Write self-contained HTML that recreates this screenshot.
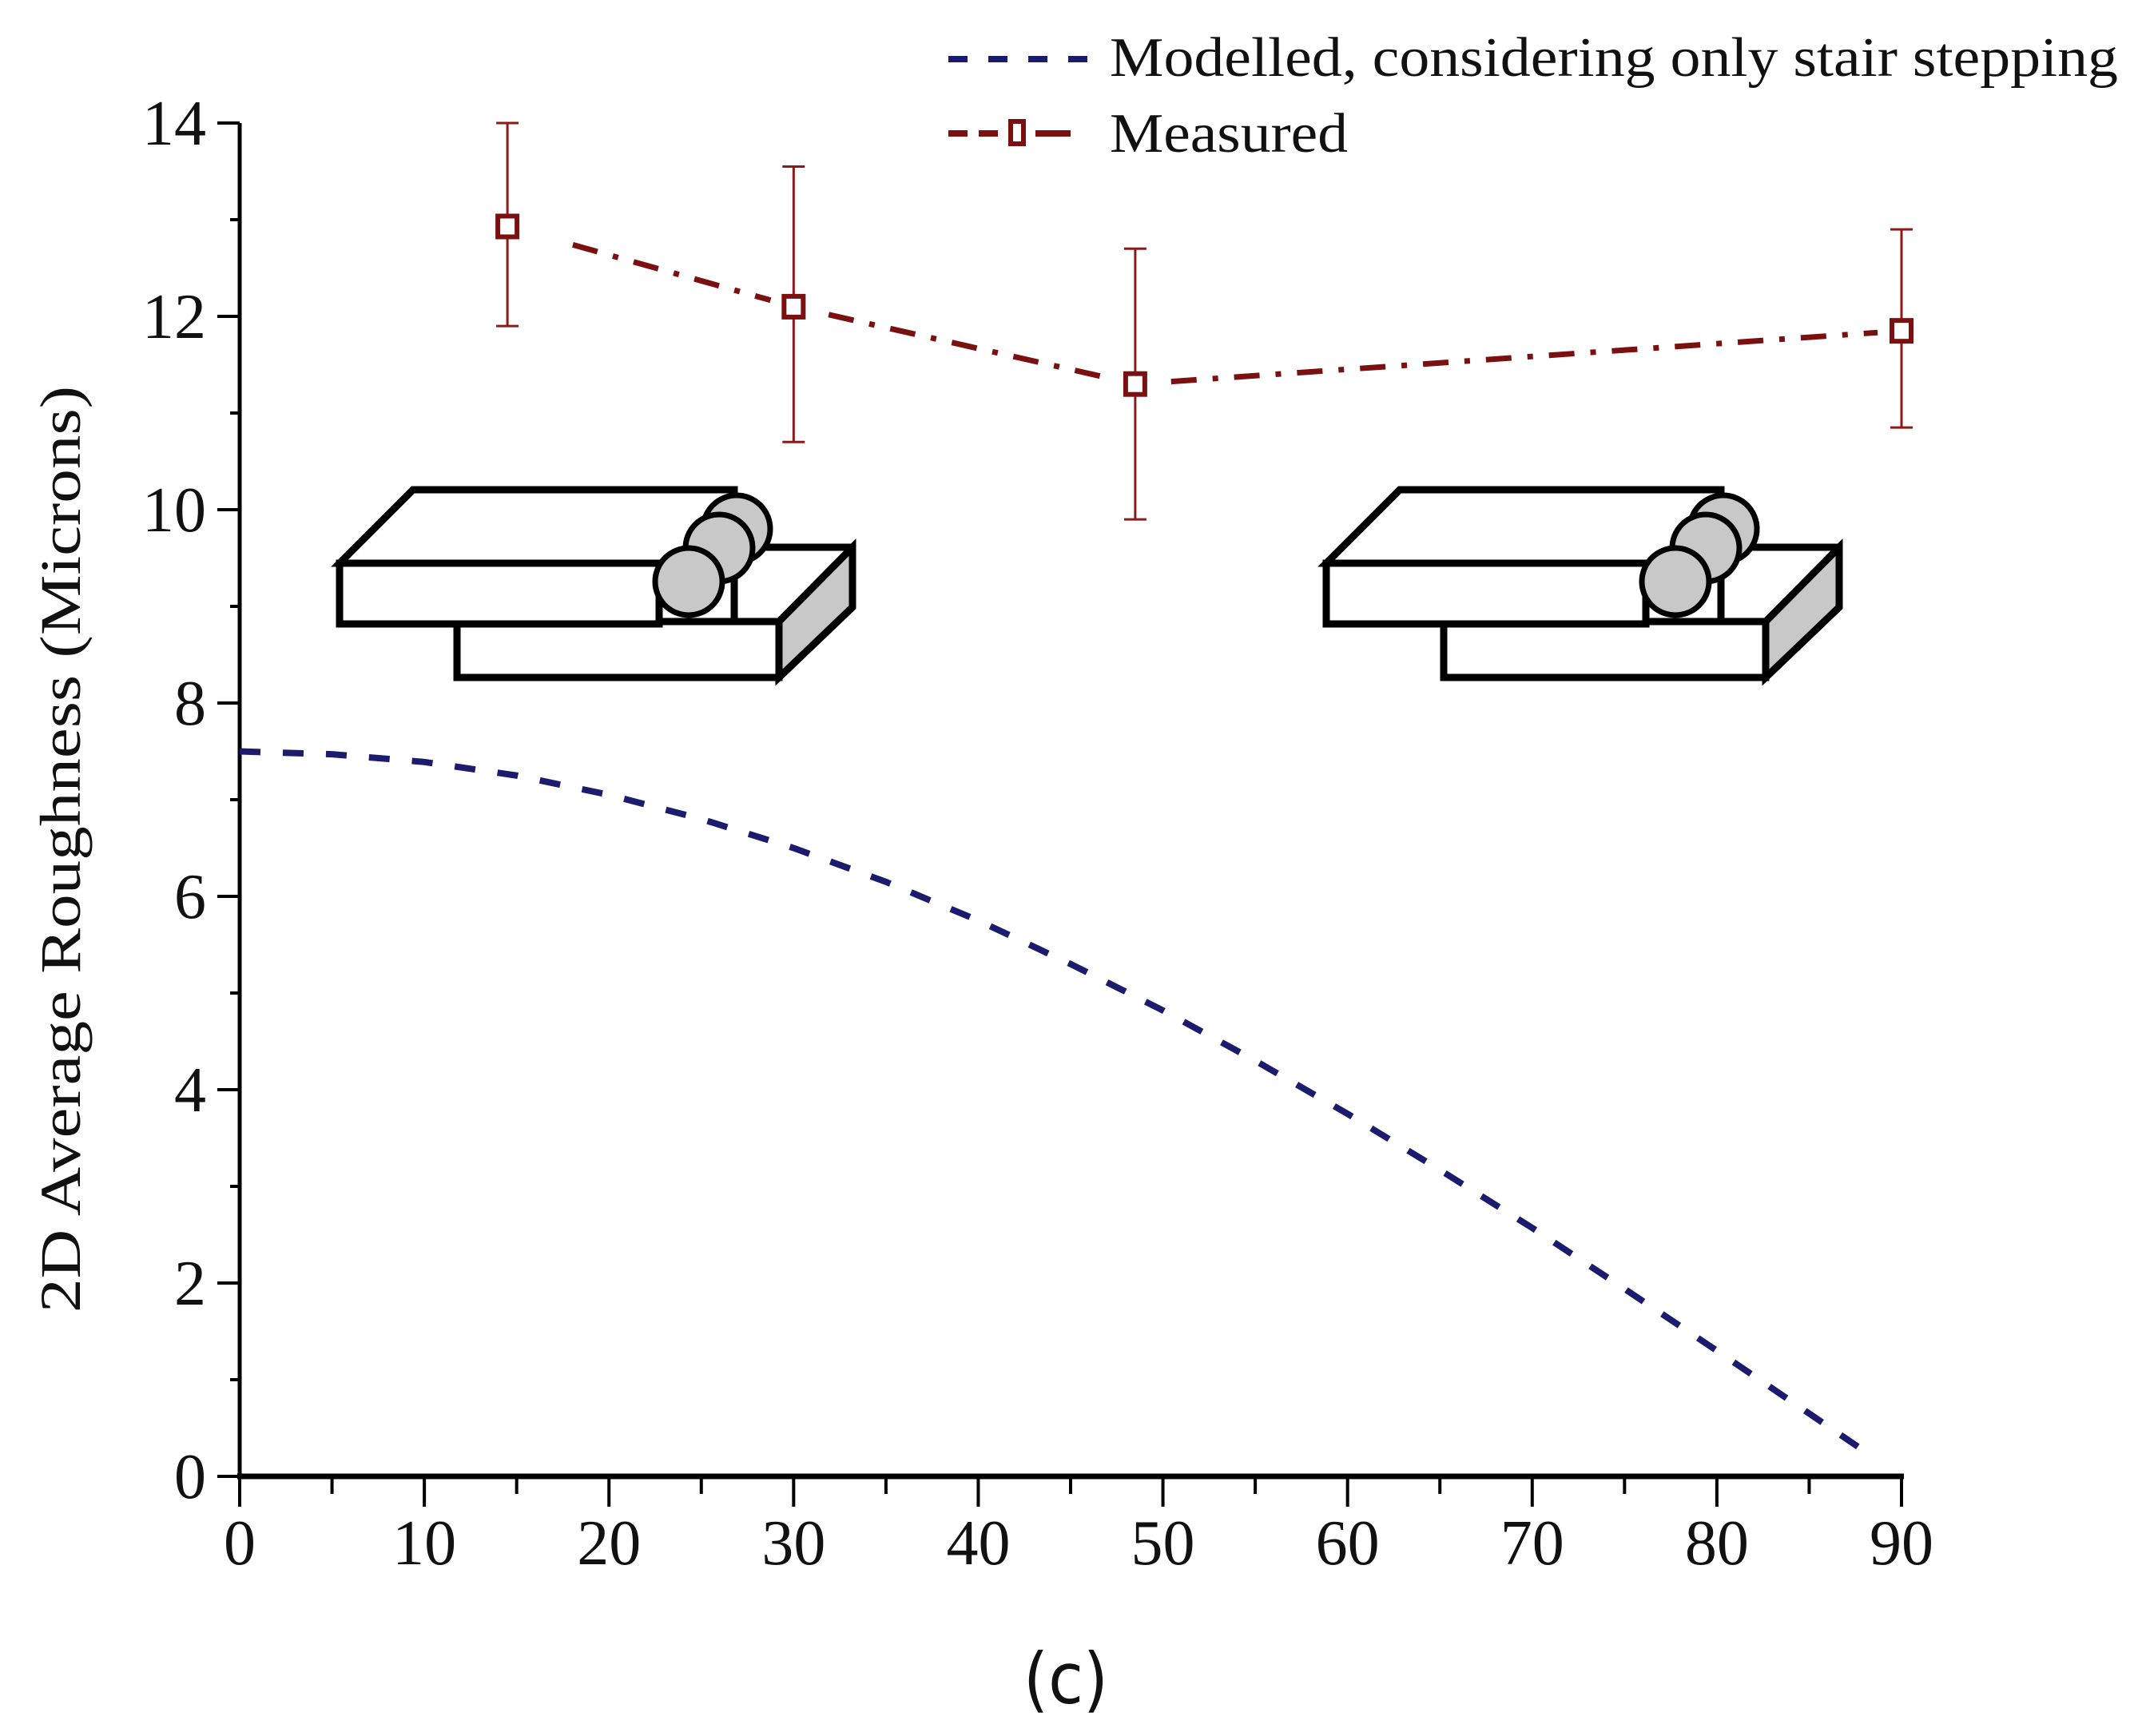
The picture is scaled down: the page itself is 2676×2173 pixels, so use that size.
<!DOCTYPE html>
<html><head><meta charset="utf-8"><style>
html,body{margin:0;padding:0;background:#fff;}
svg{display:block;}
text{font-family:"Liberation Serif",serif;fill:#111;}
</style></head><body>
<svg id="chart" width="2676" height="2173" viewBox="0 0 2676 2173" xmlns="http://www.w3.org/2000/svg">
<g id="illus-left" stroke="#000" stroke-width="9" stroke-linejoin="miter">
  <polygon points="919,685 1067,685 1067,760 975,848 572,848 572,778 919,778" fill="#fff"/>
  <polygon points="975,778 1067,685 1067,760 975,848" fill="#c8c8c8"/>
  <rect x="572" y="778" width="403" height="70" fill="#fff"/>
  <polygon points="425,705 517,613 919,613 919,705" fill="#fff"/>
  <rect x="425" y="705" width="400" height="76" fill="#fff"/>
  <circle cx="922" cy="662" r="42" fill="#c8c8c8" stroke-width="7"/>
  <circle cx="900" cy="686" r="42" fill="#c8c8c8" stroke-width="7"/>
  <circle cx="862" cy="728" r="42" fill="#c8c8c8" stroke-width="7"/>
</g>
<g id="illus-right" transform="translate(1235,0)" stroke="#000" stroke-width="9">
  <polygon points="919,685 1067,685 1067,760 975,848 572,848 572,778 919,778" fill="#fff"/>
  <polygon points="975,778 1067,685 1067,760 975,848" fill="#c8c8c8"/>
  <rect x="572" y="778" width="403" height="70" fill="#fff"/>
  <polygon points="425,705 517,613 919,613 919,705" fill="#fff"/>
  <rect x="425" y="705" width="400" height="76" fill="#fff"/>
  <circle cx="922" cy="662" r="42" fill="#c8c8c8" stroke-width="7"/>
  <circle cx="900" cy="686" r="42" fill="#c8c8c8" stroke-width="7"/>
  <circle cx="862" cy="728" r="42" fill="#c8c8c8" stroke-width="7"/>
</g>
<g id="axes"></g>
<g id="series"></g>
<text transform="translate(100,1063) rotate(-90)" text-anchor="middle" font-size="72" fill="#222" textLength="1160" lengthAdjust="spacingAndGlyphs">2D Average Roughness (Microns)</text>
<text x="1334" y="2132" text-anchor="middle" font-size="88" style="font-family:'DejaVu Sans','Liberation Sans',sans-serif" textLength="106" lengthAdjust="spacingAndGlyphs">(c)</text>
<g>
  <line x1="1187" y1="74" x2="1375" y2="74" stroke="#1c1c6e" stroke-width="8" stroke-dasharray="24,26"/>
  <text x="1389" y="95" font-size="70" textLength="1262" lengthAdjust="spacingAndGlyphs">Modelled, considering only stair stepping</text>
  <line x1="1187" y1="167" x2="1250" y2="167" stroke="#7a1010" stroke-width="8" stroke-dasharray="24,14"/>
  <line x1="1296" y1="167" x2="1340" y2="167" stroke="#7a1010" stroke-width="8"/>
  <rect x="1265" y="152" width="16" height="28" fill="#fff" stroke="#7a1010" stroke-width="6"/>
  <text x="1389" y="190" font-size="70" textLength="298" lengthAdjust="spacingAndGlyphs">Measured</text>
</g>
</svg>
<script>
const xTicks = [0,10,20,30,40,50,60,70,80,90];
const yTicks = [0,2,4,6,8,10,12,14];
const modelX = [0,5,10,15,20,25,30,35,40,45,50,55,60,65,70,75,80,85,88];
const modelY = [7.5,7.47,7.39,7.25,7.05,6.8,6.5,6.15,5.75,5.3,4.82,4.3,3.75,3.17,2.57,1.94,1.3,0.65,0.26];
const measX = [14.5,30,48.5,90];
const measY = [12.93,12.1,11.3,11.85];
const measLo = [11.9,10.7,9.9,10.85];
const measHi = [14.0,13.55,12.7,12.9];

const NS='http://www.w3.org/2000/svg';
const X0=300,X1=2380,Y0=1848,Y1=154;
function sx(v){return X0+(v-0)/(90-0)*(X1-X0);}
function sy(v){return Y0-(v-0)/(14-0)*(Y0-Y1);}
function mk(tag,attrs,parent){const e=document.createElementNS(NS,tag);for(const k in attrs)e.setAttribute(k,attrs[k]);parent.appendChild(e);return e;}
const axes=document.getElementById('axes');
const series=document.getElementById('series');

let ax=mk('line',{x1:X0-3,y1:Y0,x2:X1+3,y2:Y0,stroke:'#000','stroke-width':7},axes);


let ay=mk('line',{x1:X0,y1:Y0+3,x2:X0,y2:Y1,stroke:'#000','stroke-width':5},axes);



for(let v=0;v<=90;v+=5){
  const major=v%10===0;
  const t=mk('line',{x1:sx(v),y1:Y0,x2:sx(v),y2:Y0+(major?38:22),stroke:'#000','stroke-width':4},axes);
  
  
}
xTicks.forEach(v=>{
  const t=mk('text',{x:sx(v),y:Y0+110,'text-anchor':'middle','font-size':80},axes);
  t.textContent=String(v);
  
  
});
for(let v=0;v<=14;v+=1){
  const major=v%2===0;
  const t=mk('line',{x1:X0,y1:sy(v),x2:X0-(major?28:12),y2:sy(v),stroke:'#000','stroke-width':4},axes);
  
  
}
yTicks.forEach(v=>{
  const t=mk('text',{x:X0-42,y:sy(v)+27,'text-anchor':'end','font-size':80},axes);
  t.textContent=String(v);
  
  
});

const mp=mk('polyline',{points:modelX.map((x,i)=>sx(x)+','+sy(modelY[i])).join(' '),fill:'none',stroke:'#1c1c6e','stroke-width':8,'stroke-dasharray':'26,28'},series);



for(let i=0;i<measX.length-1;i++){
  const x1=sx(measX[i]),y1=sy(measY[i]),x2=sx(measX[i+1]),y2=sy(measY[i+1]);
  const dx=x2-x1,dy=y2-y1,L=Math.hypot(dx,dy);
  const g0=(i===0?85:45)/L,g1=30/L;
  const s=mk('line',{x1:x1+dx*g0,y1:y1+dy*g0,x2:x2-dx*g1,y2:y2-dy*g1,stroke:'#7a1010','stroke-width':7,'stroke-dasharray':'32,20,7,20'},series);
  
  
}
measX.forEach((x,i)=>{
  const cx=sx(x);
  const e=mk('line',{x1:cx,y1:sy(measLo[i]),x2:cx,y2:sy(measHi[i]),stroke:'#8b1a1a','stroke-width':3},series);
  
  
  [measLo[i],measHi[i]].forEach(v=>{
    const c=mk('line',{x1:cx-14,y1:sy(v),x2:cx+14,y2:sy(v),stroke:'#8b1a1a','stroke-width':3},series);
    
    
  });
  const m=mk('rect',{x:cx-12,y:sy(measY[i])-13,width:24,height:26,fill:'#fff',stroke:'#7a1010','stroke-width':6},series);
  
  
});
</script>
</body></html>
